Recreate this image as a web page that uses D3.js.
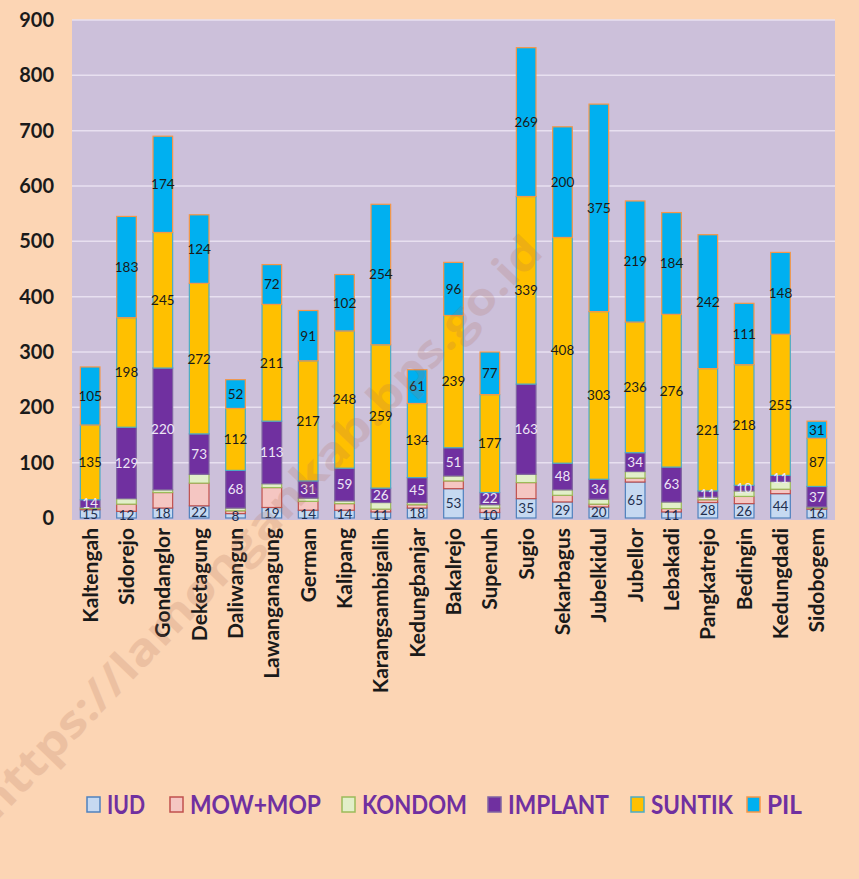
<!DOCTYPE html>
<html><head><meta charset="utf-8">
<script src="https://cdn.jsdelivr.net/npm/d3@7"></script>
<style>
html,body{margin:0;padding:0;background:#FCD5B4;}
svg{display:block;}
</style></head>
<body>
<script>
const categories = ["Kaltengah","Sidorejo","Gondanglor","Deketagung","Daliwangun","Lawanganagung","German","Kalipang","Karangsambigalih","Kedungbanjar","Bakalrejo","Supenuh","Sugio","Sekarbagus","Jubelkidul","Jubellor","Lebakadi","Pangkatrejo","Bedingin","Kedungdadi","Sidobogem"];
const seriesNames = ["IUD","MOW+MOP","KONDOM","IMPLANT","SUNTIK","PIL"];
const IUD     = [15,12,18,22,8,19,14,14,11,18,53,10,35,29,20,65,11,28,26,44,16];
const MOWMOP  = [2,13,28,41,5,36,16,12,5,6,14,8,29,12,5,7,6,5,13,8,2];
const KONDOM  = [2,10,5,16,5,7,6,5,12,4,9,6,15,10,9,12,12,5,10,14,2];
const IMPLANT = [14,129,220,73,68,113,31,59,26,45,51,22,163,48,36,34,63,11,10,11,37];
const SUNTIK  = [135,198,245,272,112,211,217,248,259,134,239,177,339,408,303,236,276,221,218,255,87];
const PIL     = [105,183,174,124,52,72,91,102,254,61,96,77,269,200,375,219,184,242,111,148,31];
const yTicks  = [0,100,200,300,400,500,600,700,800,900];

const seriesValues = [IUD, MOWMOP, KONDOM, IMPLANT, SUNTIK, PIL];
const fills   = ["#C6D9F1","#F5C6C2","#E2EFC9","#7030A0","#FFC000","#00B0F0"];
const strokes = ["#4F81BD","#C0504D","#9BBB59","#8064A2","#4BACC6","#F79646"];
const showLabel = [true,false,false,true,true,true];
const labelColor = ["#1F2F4F","#000","#000","#EDE6F5","#1A1A1A","#1A1A1A"];

const W = 859, H = 879;
const svg = d3.select("body").append("svg").attr("width", W).attr("height", H);
svg.append("rect").attr("width", W).attr("height", H).attr("fill", "#FCD5B4");

const plot = {x0:72, x1:835, y0:20, y1:518};
const x = d3.scaleBand().domain(categories).range([plot.x0, plot.x1]).paddingInner(0.46).paddingOuter(0.23);
const y = d3.scaleLinear().domain([0,900]).range([plot.y1, plot.y0]);

// plot background
svg.append("rect").attr("x", plot.x0).attr("y", plot.y0).attr("width", plot.x1-plot.x0).attr("height", plot.y1-plot.y0+2)
  .attr("fill", "#CCC0DA");

// gridlines
svg.append("g").selectAll("line").data(yTicks.filter(d=>d>0)).join("line")
  .attr("x1", plot.x0).attr("x2", plot.x1)
  .attr("y1", d=>y(d)).attr("y2", d=>y(d))
  .attr("stroke", "#E8E0F0").attr("stroke-width", 1.5);

// y axis labels
const yAxis = d3.axisLeft(y).tickValues(yTicks).tickSize(0).tickPadding(0);
const ya = svg.append("g").attr("transform", "translate(54,0)").call(yAxis);
ya.select(".domain").remove();
ya.selectAll("text").attr("font-family", "Lato, 'Open Sans', sans-serif").attr("font-weight", "bold")
  .attr("font-size", 20).attr("fill", "#1a1a1a");

// stack
const rows = categories.map((c,i)=>{ const r={cat:c}; seriesNames.forEach((s,k)=>r[s]=seriesValues[k][i]); return r; });
const stacked = d3.stack().keys(seriesNames)(rows);

const gBars = svg.append("g");
stacked.forEach((layer, k)=>{
  gBars.append("g").selectAll("rect").data(layer).join("rect")
    .attr("x", d=>x(d.data.cat))
    .attr("width", x.bandwidth())
    .attr("y", d=>y(d[1]))
    .attr("height", d=>Math.max(0, y(d[0]) - y(d[1])))
    .attr("fill", fills[k])
    .attr("stroke", strokes[k]).attr("stroke-width", 1.2);
});

// data labels
stacked.forEach((layer, k)=>{
  if(!showLabel[k]) return;
  svg.append("g").selectAll("text").data(layer).join("text")
    .attr("x", d=>x(d.data.cat)+x.bandwidth()/2)
    .attr("y", d=>(y(d[0])+y(d[1]))/2)
    .attr("dy", "0.36em")
    .attr("text-anchor", "middle")
    .attr("font-family", "Lato, 'DejaVu Sans', sans-serif")
    .attr("font-size", 13.5)
    .attr("fill", labelColor[k])
    .text(d=>d.data[seriesNames[k]]);
});

// category labels
const xAxis = d3.axisBottom(x).tickSize(0).tickPadding(0);
const xa = svg.append("g").attr("transform", `translate(0,${plot.y1+10})`).call(xAxis);
xa.select(".domain").remove();
xa.selectAll("text")
  .attr("transform", "rotate(-90)")
  .attr("text-anchor", "end")
  .attr("x", 0).attr("y", 0).attr("dy", "0.36em")
  .attr("font-family", "Lato, 'Open Sans', sans-serif").attr("font-weight", "bold")
  .attr("font-size", 21).attr("fill", "#1a1a1a");

// legend
const legendBoxX = [87, 170, 342, 488, 631, 747];
const legendW = [38, 131, 105, 101, 82, 35];
const lg = svg.append("g");
seriesNames.forEach((s,k)=>{
  lg.append("rect").attr("x", legendBoxX[k]).attr("y", 797).attr("width", 13).attr("height", 15)
    .attr("fill", fills[k]).attr("stroke", strokes[k]).attr("stroke-width", 1.5);
  lg.append("text").attr("x", legendBoxX[k]+20).attr("y", 805).attr("dy", "0.36em")
    .attr("font-family", "Lato, 'Open Sans', sans-serif").attr("font-weight", "bold")
    .attr("font-size", 26).attr("fill", "#7030A0")
    .attr("textLength", legendW[k]).attr("lengthAdjust", "spacingAndGlyphs")
    .text(s);
});

// watermark
svg.append("text").attr("transform", "translate(-4,822) rotate(-46)")
  .attr("font-family", "'Open Sans', sans-serif").attr("font-weight", "bold").attr("font-size", 44)
  .attr("fill", "#B0705A").attr("opacity", 0.2)
  .attr("textLength", 790).attr("lengthAdjust", "spacingAndGlyphs")
  .text("https://lamongankab.bps.go.id");
</script>
</body></html>
